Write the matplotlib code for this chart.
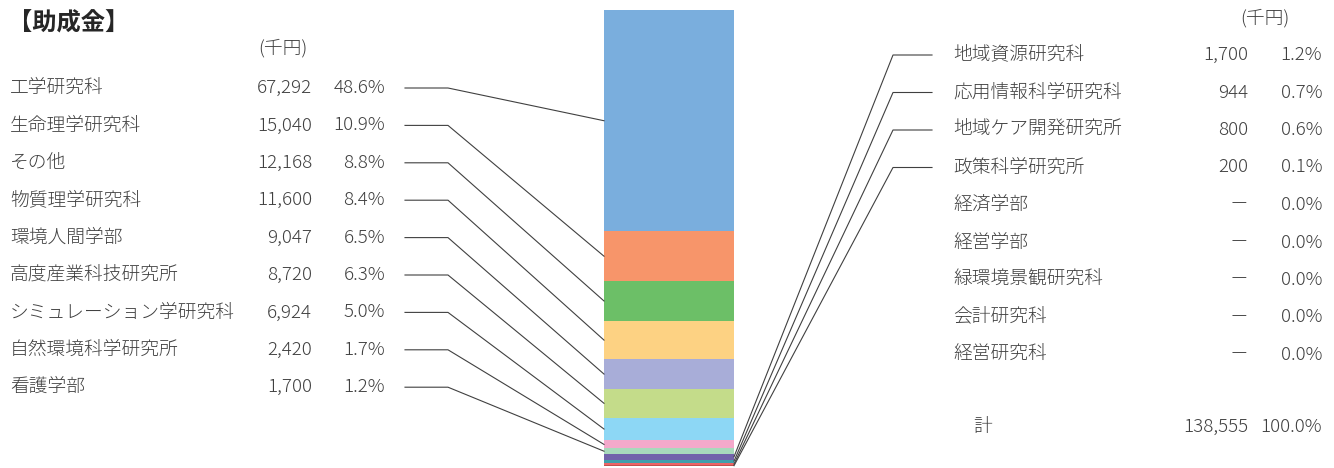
import matplotlib
matplotlib.use("Agg")
import matplotlib.pyplot as plt
from matplotlib.lines import Line2D

plt.rcParams['font.family'] = ['Noto Sans CJK JP', 'DejaVu Sans']

title = "【助成金】"
unit = "(千円)"

left_names = ["工学研究科", "生命理学研究科", "その他", "物質理学研究科", "環境人間学部",
              "高度産業科技研究所", "シミュレーション学研究科", "自然環境科学研究所", "看護学部"]
left_values = [67292, 15040, 12168, 11600, 9047, 8720, 6924, 2420, 1700]

right_names = ["地域資源研究科", "応用情報科学研究科", "地域ケア開発研究所", "政策科学研究所",
               "経済学部", "経営学部", "緑環境景観研究科", "会計研究科", "経営研究科"]
right_values = [1700, 944, 800, 200, 0, 0, 0, 0, 0]

total_label = "計"

colors = ["#7AAEDD", "#F7956A", "#6CBF67", "#FDD283", "#A8ADD8", "#C4DC8A",
          "#8DD7F5", "#F4A9CB", "#A8D9BC", "#7262AB", "#3FA0AC", "#EC6465", "#C0504D"]

W, H = 1334, 468
fig = plt.figure(figsize=(W / 100, H / 100), dpi=100)

def fx(x):
    return x / W

def fy(y):
    return 1 - y / H

# bar axes
bar_l, bar_r, bar_t, bar_b = 604, 734, 10, 466
ax = fig.add_axes([fx(bar_l), fy(bar_b), (bar_r - bar_l) / W, (bar_b - bar_t) / H])
all_vals = left_values + right_values[:4]
total = sum(left_values) + sum(right_values)
ax.set_xlim(0, 1)
ax.set_ylim(0, total)
ax.axis('off')

cum = total
mids = []
for v, c in zip(all_vals, colors):
    bottom = cum - v
    ax.bar(0.5, v, width=1.0, bottom=bottom, color=c, edgecolor='none')
    mids.append(bottom + v / 2)
    cum = bottom

def data_to_fig(xd, yd):
    disp = ax.transData.transform((xd, yd))
    return fig.transFigure.inverted().transform(disp)

txt_color = "#404040"
line_color = "#404040"
fs = 13.5
fw = 300

fig.text(fx(8), fy(24), title, fontsize=17.5, fontweight='bold', color="#262626",
         ha='left', va='center')
fig.text(fx(283), fy(48), unit, fontsize=13.5, color=txt_color, ha='center', va='center',
         fontweight=fw)
fig.text(fx(1265), fy(18), unit, fontsize=13.5, color=txt_color, ha='center', va='center',
         fontweight=fw)

fig.canvas.draw()

# left rows
row_y0, row_dy = 88, 37.4
for i, (n, v) in enumerate(zip(left_names, left_values)):
    y = row_y0 + i * row_dy
    fig.text(fx(10), fy(y), n, fontsize=fs, color=txt_color, ha='left', va='center', fontweight=fw)
    fig.text(fx(312), fy(y), f"{v:,}", fontsize=fs, color=txt_color, ha='right', va='center',
             fontweight=fw)
    fig.text(fx(385), fy(y), f"{v / total * 100:.1f}%", fontsize=fs, color=txt_color,
             ha='right', va='center', fontweight=fw)
    ex, ey = data_to_fig(0, mids[i])
    fig.add_artist(Line2D([fx(405), fx(448), ex], [fy(y), fy(y), ey],
                          transform=fig.transFigure, color=line_color, lw=0.8))

# right rows
rrow_y0, rrow_dy = 55, 37.5
for j, (n, v) in enumerate(zip(right_names, right_values)):
    y = rrow_y0 + j * rrow_dy
    fig.text(fx(953), fy(y), n, fontsize=fs, color=txt_color, ha='left', va='center', fontweight=fw)
    vs = f"{v:,}" if v > 0 else "－"
    fig.text(fx(1248), fy(y), vs, fontsize=fs, color=txt_color, ha='right', va='center',
             fontweight=fw)
    fig.text(fx(1322), fy(y), f"{v / total * 100:.1f}%", fontsize=fs, color=txt_color,
             ha='right', va='center', fontweight=fw)
    if v > 0:
        k = len(left_values) + j
        ex, ey = data_to_fig(1, mids[k])
        fig.add_artist(Line2D([fx(932), fx(893), ex], [fy(y), fy(y), ey],
                              transform=fig.transFigure, color=line_color, lw=0.8))

# total row
fig.text(fx(973), fy(427), total_label, fontsize=fs, color=txt_color, ha='left', va='center',
         fontweight=fw)
fig.text(fx(1248), fy(427), f"{total:,}", fontsize=fs, color=txt_color, ha='right', va='center',
         fontweight=fw)
fig.text(fx(1322), fy(427), "100.0%", fontsize=fs, color=txt_color, ha='right', va='center',
         fontweight=fw)

fig.savefig("out.png", dpi=100, facecolor='white')
